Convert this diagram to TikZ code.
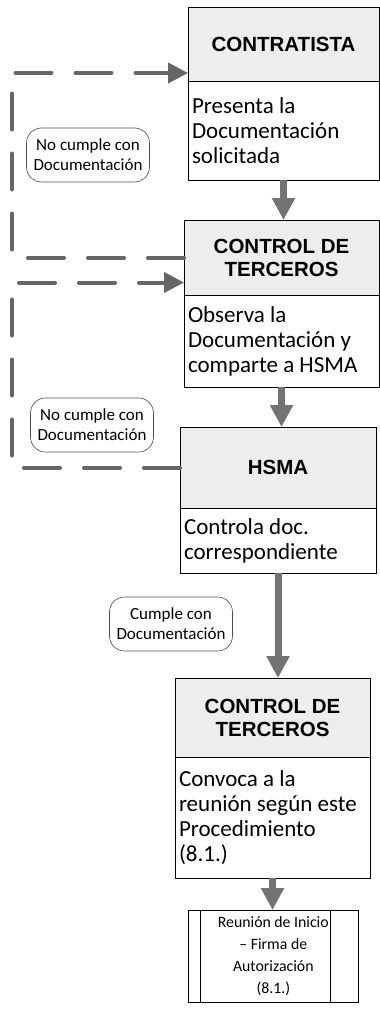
\documentclass[tikz,border=0pt]{standalone}
\usepackage{fontspec}
\setmainfont{Carlito}
\newfontfamily\hdfont{Liberation Sans}
\usetikzlibrary{arrows.meta,positioning}

\tikzset{
  hdbox/.style={draw, line width=0.8pt, fill=gray!14, outer sep=0pt,
    anchor=north west, align=center,
    font=\hdfont\bfseries\fontsize{20.5}{23}\selectfont},
  txtbox/.style={draw, line width=0.8pt, outer sep=0pt, anchor=north west,
    align=flush left, inner xsep=4pt, font=\fontsize{23}{25}\selectfont},
  tagbox/.style={draw=black!70, line width=0.6pt, rounded corners=15pt,
    inner xsep=7pt, minimum height=54pt, align=center,
    font=\fontsize{17}{20}\selectfont},
  flowarr/.style={line width=7pt, black!55,
    -{Triangle[length=22pt,width=22pt]}},
  retarr/.style={line width=4pt, black!60, line cap=round,
    dash pattern=on 36pt off 24pt,
    -{Triangle[length=20pt,width=20pt]}}
}

\begin{document}
\begin{tikzpicture}[x=1pt,y=-1pt]
  \useasboundingbox (0,0) rectangle (380,1012);
  \node[hdbox, minimum width=191pt, minimum height=74pt](contr)at(188,7){CONTRATISTA};
  \node[txtbox, text width=183pt, minimum height=99pt](contrtxt)at(contr.south west)
    {Presenta la\\Documentación\\solicitada};
  \node[hdbox, minimum width=195pt, minimum height=75pt](terc1)at(184,220){CONTROL DE\\TERCEROS};
  \node[txtbox, text width=187pt, minimum height=92pt](terc1txt)at(terc1.south west)
    {Observa la\\Documentación y\\comparte a HSMA};
  \node[hdbox, minimum width=196pt, minimum height=81pt](hsma)at(180,427){HSMA};
  \node[txtbox, text width=188pt, minimum height=65pt](hsmatxt)at(hsma.south west)
    {Controla doc.\\correspondiente};
  \node[hdbox, minimum width=195pt, minimum height=79pt](terc2)at(175,678){CONTROL DE\\TERCEROS};
  \node[txtbox, text width=187pt, minimum height=121pt](terc2txt)at(terc2.south west)
    {Convoca a la\\reunión según este\\Procedimiento\\(8.1.)};
  \node[draw, line width=0.6pt, anchor=north west, minimum width=170pt, minimum height=92pt,
    align=center, font=\fontsize{15.8}{22}\selectfont](reunion)at(188,910)
    {Reunión de Inicio\\– Firma de\\Autorización\\(8.1.)};
  \draw[line width=0.6pt]([xshift=12pt]reunion.north west)--([xshift=12pt]reunion.south west);
  \draw[line width=0.6pt]([xshift=-28pt]reunion.north east)--([xshift=-28pt]reunion.south east);

  \node[tagbox](nc1)at(88,155){No cumple con\\Documentación};
  \node[tagbox](nc2)at(92,425){No cumple con\\Documentación};
  \node[tagbox](okdoc)at(171,624){Cumple con\\Documentación};

  \draw[flowarr](contrtxt.south)--(contrtxt.south |- terc1.north);
  \draw[flowarr](terc1txt.south)--(terc1txt.south |- hsma.north);
  \draw[flowarr](hsmatxt.south)--(hsmatxt.south |- terc2.north);
  \draw[flowarr](terc2txt.south)--(terc2txt.south |- reunion.north);

  \coordinate(lx)at(12,0);
  \draw[retarr](terc1.west)--(terc1.west -| lx)|-([yshift=-29pt]contr.west);
  \draw[retarr](hsma.west)--(hsma.west -| lx)|-([yshift=-25pt]terc1.west);
\end{tikzpicture}
\end{document}
